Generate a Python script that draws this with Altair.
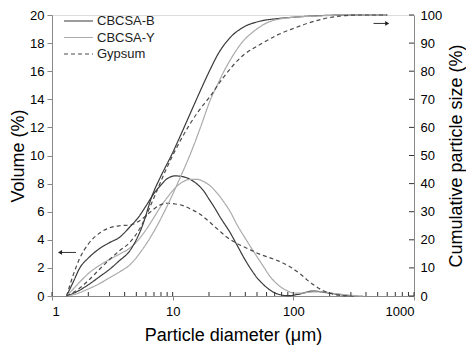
import altair as alt
import pandas as pd

FONT = "Liberation Sans"
series_names = ["CBCSA-B", "CBCSA-Y", "Gypsum"]
series_colors = ["#3a3a3a", "#ababab", "#4a4a4a"]
series_dashes = [[1, 0], [1, 0], [4, 3]]

# ---- frequency (volume %) curves, left axis ----
b_freq_d = [1.32, 1.5, 1.7, 2.0, 2.5, 3.0, 3.66, 4.4, 5.2, 6.0, 7.0, 8.0, 9.0, 10.5, 12, 14, 16, 18, 20, 22, 25, 30, 34, 40, 45, 50, 56, 66, 77, 90, 110, 145, 200, 270, 320]
b_freq_v = [0, 1.0, 2.0, 2.7, 3.4, 3.8, 4.2, 4.9, 5.6, 6.4, 7.3, 7.9, 8.35, 8.55, 8.5, 8.3, 7.95, 7.5, 6.9, 6.35, 5.55, 4.5, 3.65, 2.55, 1.85, 1.3, 0.85, 0.35, 0.1, 0.02, 0.12, 0.35, 0.2, 0.05, 0]

y_freq_d = [1.32, 1.5, 1.7, 2.0, 2.5, 3.0, 3.66, 4.4, 5.2, 6.0, 7.0, 8.0, 9.0, 10.5, 12, 14, 16, 18, 20.4, 24, 27, 30, 34, 40, 45, 50, 57, 64, 77, 90, 100, 115, 140, 170, 220, 300, 380]
y_freq_v = [0, 0.5, 1.0, 1.6, 2.2, 2.6, 3.0, 3.4, 4.0, 4.7, 5.6, 6.4, 7.0, 7.7, 8.1, 8.3, 8.3, 8.15, 7.85, 7.2, 6.6, 6.0, 5.1, 4.1, 3.4, 2.8, 2.05, 1.4, 0.7, 0.35, 0.22, 0.2, 0.28, 0.3, 0.18, 0.05, 0]

g_freq_d = [1.32, 1.5, 1.7, 2.0, 2.5, 3.0, 3.66, 4.4, 5.2, 6.0, 7.0, 8.0, 9.0, 10.5, 12, 14, 17, 20, 24, 28, 34, 40, 45, 52, 60, 75, 93, 115, 130, 150, 170, 210, 280]
g_freq_v = [0, 1.5, 2.7, 3.7, 4.5, 4.85, 5.0, 5.05, 5.3, 5.7, 6.2, 6.5, 6.6, 6.55, 6.45, 6.2, 5.8, 5.3, 4.7, 4.2, 3.75, 3.45, 3.25, 3.0, 2.8, 2.5, 2.1, 1.55, 1.15, 0.75, 0.45, 0.15, 0]

# ---- cumulative curves, right axis ----
b_cum_d = [1.32, 1.6, 2.0, 2.5, 3.0, 3.6, 4.4, 5.5, 6.87, 7.85, 10, 12, 14.5, 18, 20.4, 23.7, 30, 38, 53, 73, 100, 137, 200, 300, 600]
b_cum_c = [0, 1.5, 4, 7, 9.5, 12.5, 16, 24, 36.5, 42, 51, 58.5, 66.5, 75.5, 80.5, 86, 92, 95.5, 97.8, 98.7, 99.2, 99.6, 99.9, 100, 100]

y_cum_d = [1.32, 1.6, 2.0, 2.5, 3.0, 3.6, 4.4, 5.5, 7, 9, 11.5, 14, 17, 20.4, 24, 27, 31, 38, 48, 61, 80, 100, 150, 300, 600]
y_cum_c = [0, 0.8, 2.5, 4.5, 6.5, 8.5, 11, 16, 23, 32, 42, 50.5, 60, 69.5, 76, 80.5, 85, 90.5, 94.5, 97.3, 98.7, 99.2, 99.6, 100, 100]

g_cum_d = [1.32, 1.6, 2.0, 2.5, 3.0, 3.6, 4.4, 5.5, 7, 8.6, 10, 12, 16.2, 20.4, 26, 38, 53, 73, 100, 137, 180, 243, 350, 600]
g_cum_c = [0, 2, 5.5, 9.7, 13, 16, 19, 25, 35, 44, 50, 56.5, 65.5, 71, 77.5, 85.5, 89.5, 92.8, 95.2, 97.3, 98.7, 99.6, 100, 100]

# ---- axis ticks and annotations ----
x_labels = [1, 10, 100, 1000]
x_minor = [1, 2, 3, 4, 5, 6, 7, 8, 9, 10, 20, 30, 40, 50, 60, 70, 80, 90,
           100, 200, 300, 400, 500, 600, 700, 800, 900, 1000]
left_ticks = [0, 2, 4, 6, 8, 10, 12, 14, 16, 18, 20]
right_ticks = [0, 10, 20, 30, 40, 50, 60, 70, 80, 90, 100]
left_arrow = {"tip": 1.165, "tail": 1.58, "v": 3.1}
right_arrow = {"tip": 600, "tail": 462, "c": 97}

W, H = 362, 281

freq = pd.concat([
    pd.DataFrame({"series": n, "d": d, "v": v})
    for n, d, v in zip(series_names, [b_freq_d, y_freq_d, g_freq_d], [b_freq_v, y_freq_v, g_freq_v])
])
cum = pd.concat([
    pd.DataFrame({"series": n, "d": d, "c": c})
    for n, d, c in zip(series_names, [b_cum_d, y_cum_d, g_cum_d], [b_cum_c, y_cum_c, g_cum_c])
])

xscale = alt.Scale(type="log", domain=[1, 1000], nice=False)
x_axis = alt.Axis(values=x_labels, format="d", title="Particle diameter (μm)",
                  tickSize=4, labelPadding=5, titlePadding=8, grid=False,
                  labelFontSize=13, titleFontSize=18, titleFontWeight="normal")
X = alt.X("d:Q", scale=xscale, axis=x_axis)

left_scale = alt.Scale(domain=[0, 20], nice=False)
left_axis = alt.Axis(values=left_ticks, title="Volume (%)", tickSize=5, labelPadding=3,
                     titlePadding=2, grid=False, labelFontSize=13, titleFontSize=18,
                     titleFontWeight="normal")
right_scale = alt.Scale(domain=[0, 100], nice=False)
right_axis = alt.Axis(orient="right", values=right_ticks, title="Cumulative particle size (%)",
                      ticks=False, labelPadding=6, titlePadding=24, grid=False,
                      labelFontSize=13, titleFontSize=18, titleAngle=270,
                      titleFontWeight="normal")

color = alt.Color("series:N", scale=alt.Scale(domain=series_names, range=series_colors), legend=None)
dash = alt.StrokeDash("series:N", scale=alt.Scale(domain=series_names, range=series_dashes), legend=None)

freq_lines = alt.Chart(freq).mark_line(strokeWidth=1.2, interpolate="monotone").encode(
    x=X, y=alt.Y("v:Q", scale=left_scale, axis=left_axis), color=color, strokeDash=dash,
    detail="series:N")

minor = alt.Chart(pd.DataFrame({"d": x_minor})).mark_rule(color="#333", strokeWidth=1).encode(
    x=X, y=alt.value(H), y2=alt.value(H - 4))

la = pd.DataFrame({"d": [left_arrow["tail"]], "d2": [left_arrow["tip"]], "v": [left_arrow["v"]]})
la_line = alt.Chart(la).mark_rule(color="#333", strokeWidth=1).encode(
    x=X, x2="d2:Q", y=alt.Y("v:Q", scale=left_scale, axis=left_axis))
la_head = alt.Chart(pd.DataFrame({"d": [left_arrow["tip"]], "v": [left_arrow["v"]]})).mark_point(
    shape="triangle-left", filled=True, size=22, color="#222", opacity=1).encode(
    x=X, y=alt.Y("v:Q", scale=left_scale, axis=left_axis))

legend_layers = []
for i, (n, col, ds) in enumerate(zip(series_names, series_colors, series_dashes)):
    row = pd.DataFrame({"series": [n]})
    ypix = 6 + 16.5 * i
    legend_layers.append(alt.Chart(row).mark_rule(color=col, strokeWidth=1.2, strokeDash=ds).encode(
        x=alt.value(12), x2=alt.value(41), y=alt.value(ypix)))
    legend_layers.append(alt.Chart(row).mark_text(align="left", baseline="middle", font=FONT,
                                                  fontSize=13, color="#222").encode(
        x=alt.value(45), y=alt.value(ypix), text="series:N"))

left_layer = alt.layer(freq_lines, minor, la_line, la_head, *legend_layers)

cum_lines = alt.Chart(cum).mark_line(strokeWidth=1.2, interpolate="monotone").encode(
    x=X, y=alt.Y("c:Q", scale=right_scale, axis=right_axis), color=color, strokeDash=dash,
    detail="series:N")
rticks = alt.Chart(pd.DataFrame({"c": right_ticks})).mark_rule(color="#333", strokeWidth=1).encode(
    x=alt.value(W - 5), x2=alt.value(W), y=alt.Y("c:Q", scale=right_scale, axis=right_axis))
ra = pd.DataFrame({"d": [right_arrow["tail"]], "d2": [right_arrow["tip"]], "c": [right_arrow["c"]]})
ra_line = alt.Chart(ra).mark_rule(color="#333", strokeWidth=1).encode(
    x=X, x2="d2:Q", y=alt.Y("c:Q", scale=right_scale, axis=right_axis))
ra_head = alt.Chart(pd.DataFrame({"d": [right_arrow["tip"]], "c": [right_arrow["c"]]})).mark_point(
    shape="triangle-right", filled=True, size=22, color="#222", opacity=1).encode(
    x=X, y=alt.Y("c:Q", scale=right_scale, axis=right_axis))

right_layer = alt.layer(cum_lines, rticks, ra_line, ra_head)

chart = alt.layer(left_layer, right_layer).resolve_scale(y="independent").properties(
    width=W, height=H,
    padding={"left": 44, "top": 7, "right": 52, "bottom": 56},
    autosize=alt.AutoSizeParams(type="none"),
).configure_view(stroke="transparent").configure_axis(
    labelFont=FONT, titleFont=FONT, domainColor="#333", tickColor="#333",
    labelColor="#222", titleColor="#222", titleFontWeight="normal", domainWidth=1
).configure(background="white")

chart.save("out.html", embed_options={"renderer": "svg", "actions": False})
